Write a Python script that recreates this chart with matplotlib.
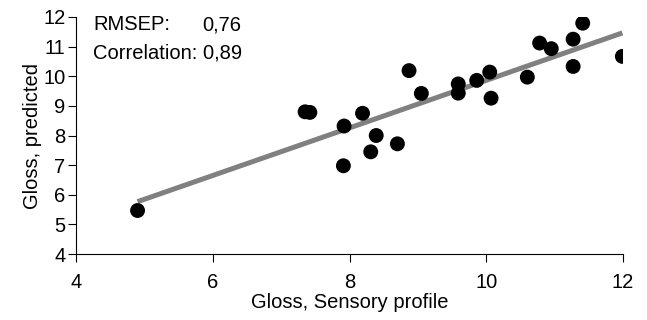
import matplotlib
matplotlib.use("Agg")
import matplotlib.pyplot as plt
import numpy as np

plt.rcParams["font.family"] = ["Liberation Sans", "DejaVu Sans"]

# Gloss, sensory profile (measured) vs. predicted
sensory = [4.90, 7.35, 7.42, 7.92, 7.91, 8.19, 8.31, 8.39, 8.70, 8.87, 9.05,
           9.59, 9.59, 9.86, 10.05, 10.07, 10.60, 10.78, 10.95, 11.27, 11.27,
           11.41, 11.99]
predicted = [5.47, 8.80, 8.78, 8.32, 6.98, 8.75, 7.45, 8.00, 7.72, 10.19, 9.42,
             9.74, 9.43, 9.86, 10.14, 9.26, 9.97, 11.12, 10.93, 11.25, 10.33,
             11.79, 10.67]

rmsep_text = "0,76"
corr_text = "0,89"

x = np.array(sensory)
y = np.array(predicted)
slope, intercept = np.polyfit(x, y, 1)

fig = plt.figure(figsize=(6.47, 3.2), dpi=100)
ax = fig.add_axes([0.1175, 0.206, 0.8455, 0.741])

xl = np.array([x.min(), x.max()])
ax.plot(xl, slope * xl + intercept, color="#808080", linewidth=3.6,
        solid_capstyle="butt", zorder=2)
ax.scatter(x, y, s=115, color="black", zorder=3, edgecolors="none")

ax.set_xlim(4, 12)
ax.set_ylim(4, 12)
ax.set_xticks([4, 6, 8, 10, 12])
ax.set_yticks(range(4, 13))
ax.spines["top"].set_visible(False)
ax.spines["right"].set_visible(False)
ax.tick_params(axis="both", labelsize=14.5, length=5.5, width=0.8, pad=2)
ax.tick_params(axis="x", pad=8)

ax.set_xlabel("Gloss, Sensory profile", fontsize=14.5, labelpad=0.5)
ax.set_ylabel("Gloss, predicted", fontsize=14.5, labelpad=1)

ax.text(4.25, 11.73, "RMSEP:", fontsize=14.5, va="center", ha="left")
ax.text(5.85, 11.73, rmsep_text, fontsize=14.5, va="center", ha="left")
ax.text(4.25, 10.78, "Correlation: " + corr_text, fontsize=14.5,
        va="center", ha="left")

fig.savefig("out.png", dpi=100)
